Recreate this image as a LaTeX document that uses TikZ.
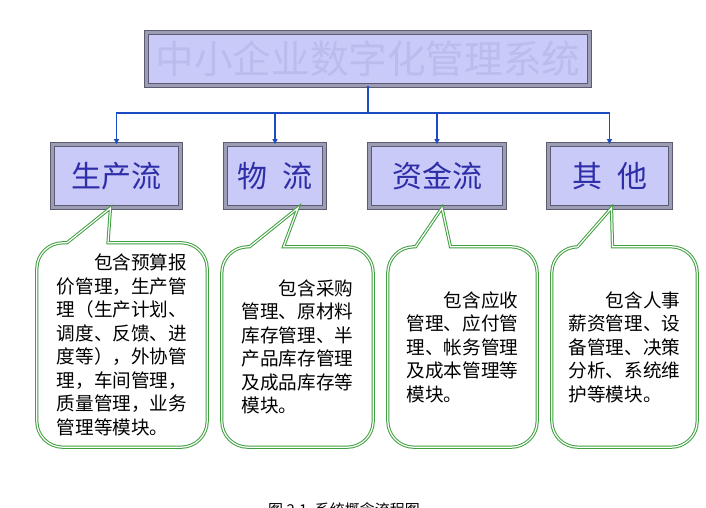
\documentclass[tikz,border=0pt]{standalone}
\usepackage{fontspec}
\setmainfont{Noto Sans CJK SC}
\usepackage{tikz}
\usetikzlibrary{positioning,arrows.meta}
\definecolor{boxFill}{HTML}{CACAF8}
\definecolor{boxFrame}{HTML}{5A5A70}
\definecolor{boxBand}{HTML}{9C9CB4}
\definecolor{catText}{HTML}{2E2EA8}
\definecolor{titleText}{HTML}{BCBCEC}
\definecolor{busBlue}{HTML}{1C4CC4}
\definecolor{noteGreen}{HTML}{3FA03F}

\begin{document}
\begin{tikzpicture}[
  x=1pt, y=-1pt,
  frame/.style={
    rectangle, draw=boxFrame, line width=0.8pt,
    double=boxBand, double distance=3pt,
    fill=boxFill, inner sep=0pt, align=center
  },
  cat/.style={
    frame, minimum height=63pt, text=catText,
    font=\fontsize{30}{34}\selectfont
  },
  note/.style={
    rectangle, inner sep=0pt, align=left, text=black,
    font=\fontsize{18.6}{23.5}\selectfont
  },
  bubble/.style={
    draw=noteGreen, line width=1pt, double=white, double distance=1.2pt
  },
  bus/.style={line width=1.4pt, busBlue},
  arr/.style={bus, -{Triangle[length=5pt,width=5pt]}},
]
\useasboundingbox (0,0) rectangle (706,508);

% === Title ===
\node[frame, minimum width=443pt, minimum height=53pt, text=titleText,
  font=\fontsize{38.6}{40}\selectfont] (top) at (368,59) {中小企业数字化管理系统};

% === Categories ===
\node[cat, minimum width=128pt] (prod) at (116.5,176) {生产流};
\node[cat, minimum width=99pt] (logi) at (275,176) {物\hspace{0.5em}流};
\node[cat, minimum width=135pt] (fund) at (437,176) {资金流};
\node[cat, minimum width=122pt] (misc) at (609.5,176) {其\hspace{0.5em}他};

% === Connectors ===
\draw[bus] (top.south) -- ++(0,27) coordinate (hub);
\draw[arr] (hub) -| (prod.north);
\draw[arr] (hub) -| (logi.north);
\draw[arr] (hub) -| (fund.north);
\draw[arr] (hub) -| (misc.north);

% === Notes ===
\node[note, minimum width=170pt, minimum height=204pt] (np) at (122,345)
  {\hspace{2em}包含预算报\\价管理，生产管\\理（生产计划、\\调度、反馈、进\\度等），外协管\\理，车间管理，\\质量管理，业务\\管理等模块。};
\node[note, minimum width=151pt, minimum height=200pt] (nl) at (297.5,347)
  {\hspace{2em}包含采购\\管理、原材料\\库存管理、半\\产品库存管理\\及成品库存等\\模块。};
\node[note, minimum width=149pt, minimum height=200pt] (nf) at (462.5,347)
  {\hspace{2em}包含应收\\管理、应付管\\理、帐务管理\\及成本管理等\\模块。};
\node[note, minimum width=145pt, minimum height=200pt] (nm) at (624.5,347)
  {\hspace{2em}包含人事\\薪资管理、设\\备管理、决策\\分析、系统维\\护等模块。};

% bubble outlines, pointer to the box above
\draw[bubble] ([xshift=-6pt]prod.south) -- ([xshift=-14pt]np.north)
  [rounded corners=26pt] -- (np.north east) -- (np.south east)
  -- (np.south west) -- (np.north west)
  [sharp corners] -- ([xshift=-55pt]np.north) -- cycle;
\draw[bubble] ([xshift=23pt]logi.south) -- ([xshift=-14pt]nl.north)
  [rounded corners=26pt] -- (nl.north east) -- (nl.south east)
  -- (nl.south west) -- (nl.north west)
  [sharp corners] -- ([xshift=-48pt]nl.north) -- cycle;
\draw[bubble] ([xshift=5pt]fund.south) -- ([xshift=-12pt]nf.north)
  [rounded corners=26pt] -- (nf.north east) -- (nf.south east)
  -- (nf.south west) -- (nf.north west)
  [sharp corners] -- ([xshift=-47pt]nf.north) -- cycle;
\draw[bubble] ([xshift=2pt]misc.south) -- ([xshift=-12pt]nm.north)
  [rounded corners=26pt] -- (nm.north east) -- (nm.south east)
  -- (nm.south west) -- (nm.north west)
  [sharp corners] -- ([xshift=-47pt]nm.north) -- cycle;

% === Caption ===
\node[font=\fontsize{15}{17}\selectfont, anchor=north] (cap) at (344,499)
  {图 2.1\hspace{0.5em}系统概念流程图};

\end{tikzpicture}
\end{document}
